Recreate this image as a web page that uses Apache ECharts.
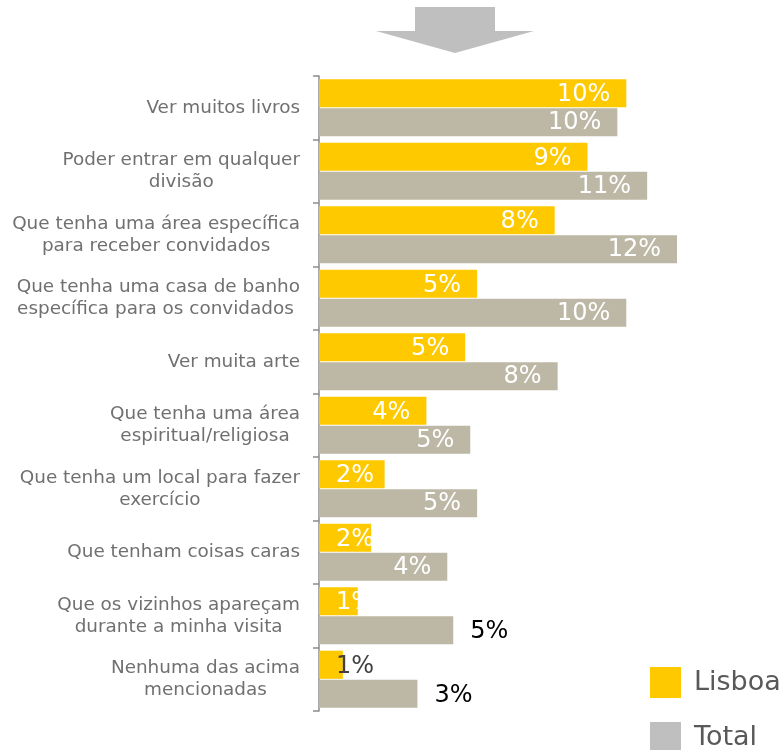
<!DOCTYPE html>
<html>
<head>
<meta charset="utf-8">
<script src="https://cdn.jsdelivr.net/npm/echarts@6/dist/echarts.min.js"></script>
<style>
html,body{margin:0;padding:0;background:#fff;}
#main{width:783px;height:750px;}
</style>
</head>
<body>
<div id="main"></div>
<script>
// categorias (de cima para baixo)
const categories = [
    'Ver muitos livros',
    'Poder entrar em qualquer\ndivisão',
    'Que tenha uma área específica\npara receber convidados',
    'Que tenha uma casa de banho\nespecífica para os convidados ',
    'Ver muita arte',
    'Que tenha uma área\nespiritual/religiosa',
    'Que tenha um local para fazer\nexercício',
    'Que tenham coisas caras',
    'Que os vizinhos apareçam\ndurante a minha visita',
    'Nenhuma das acima\nmencionadas'
];
const lisboa = [10.3, 9.0, 7.9, 5.3, 4.9, 3.6, 2.2, 1.75, 1.3, 0.8];
const total = [10.0, 11.0, 12.0, 10.3, 8.0, 5.07, 5.3, 4.3, 4.5, 3.3];

const YELLOW = '#ffc900';
const BEIGE = '#bdb8a6';
const LEGEND_GREY = '#bfbfbf';

const pct = p => Math.round(p.value) + '%';

// rótulos dentro da barra, os pequenos encostados à esquerda
function lisboaData(){
    return lisboa.map((v, i) => {
        let item = {value: v};
        if(i >= 6){
            item.label = {position: 'insideLeft', distance: 17};
            if(i === 9) item.label.color = '#404040';
        }
        return item;
    });
}
function totalData(){
    return total.map((v, i) => {
        let item = {value: v};
        if(i >= 8){
            item.label = {position: 'right', distance: 17, offset: [0, 2], color: '#000'};
        }
        return item;
    });
}

const legendBase = {
    left: 645,
    itemWidth: 31, itemHeight: 31,
    icon: 'rect',
    textStyle: {fontSize: 27, color: '#595959', padding: [0, 0, 0, 8]}
};

let chart = echarts.init(document.getElementById('main'));
chart.setOption({
    animation: false,
    textStyle: {fontFamily: 'DejaVu Sans'},
    grid: {left: 319, right: 106, top: 76, bottom: 39},
    xAxis: {
        type: 'value', min: 0, max: 12, show: false,
        splitLine: {show: false}
    },
    yAxis: {
        type: 'category',
        inverse: true,
        data: categories,
        axisLine: {show: true, lineStyle: {color: '#8c8c8c', width: 1.5}},
        axisTick: {show: true, length: 6, alignWithLabel: false, lineStyle: {color: '#8c8c8c', width: 1.5}},
        axisLabel: {
            margin: 19,
            formatter: v => v.split('\n').map(s => '{c|' + s + '}').join('\n'),
            rich: {c: {align: 'center', fontSize: 18.4, lineHeight: 22, color: '#707070', fontFamily: 'DejaVu Sans'}}
        }
    },
    legend: [
        Object.assign({top: 662, data: [{name: 'Lisboa', itemStyle: {color: YELLOW}}]}, legendBase),
        Object.assign({top: 717, data: [{name: 'Total', itemStyle: {color: LEGEND_GREY}}]}, legendBase)
    ],
    graphic: [{
        type: 'polygon',
        shape: {points: [[415,7],[495,7],[495,31],[534,31],[455,53],[376,31],[415,31]]},
        style: {fill: LEGEND_GREY}
    }],
    series: [
        {
            name: 'Lisboa', type: 'bar',
            data: lisboaData(),
            itemStyle: {color: YELLOW},
            barCategoryGap: '10%', barGap: '3%',
            label: {show: true, position: 'insideRight', distance: 16, offset: [0, 2], color: '#fff', fontSize: 24, formatter: pct}
        },
        {
            name: 'Total', type: 'bar',
            data: totalData(),
            itemStyle: {color: BEIGE},
            barCategoryGap: '10%', barGap: '3%',
            label: {show: true, position: 'insideRight', distance: 16, offset: [0, 1], color: '#fff', fontSize: 24, formatter: pct}
        }
    ]
});
</script>
</body>
</html>
